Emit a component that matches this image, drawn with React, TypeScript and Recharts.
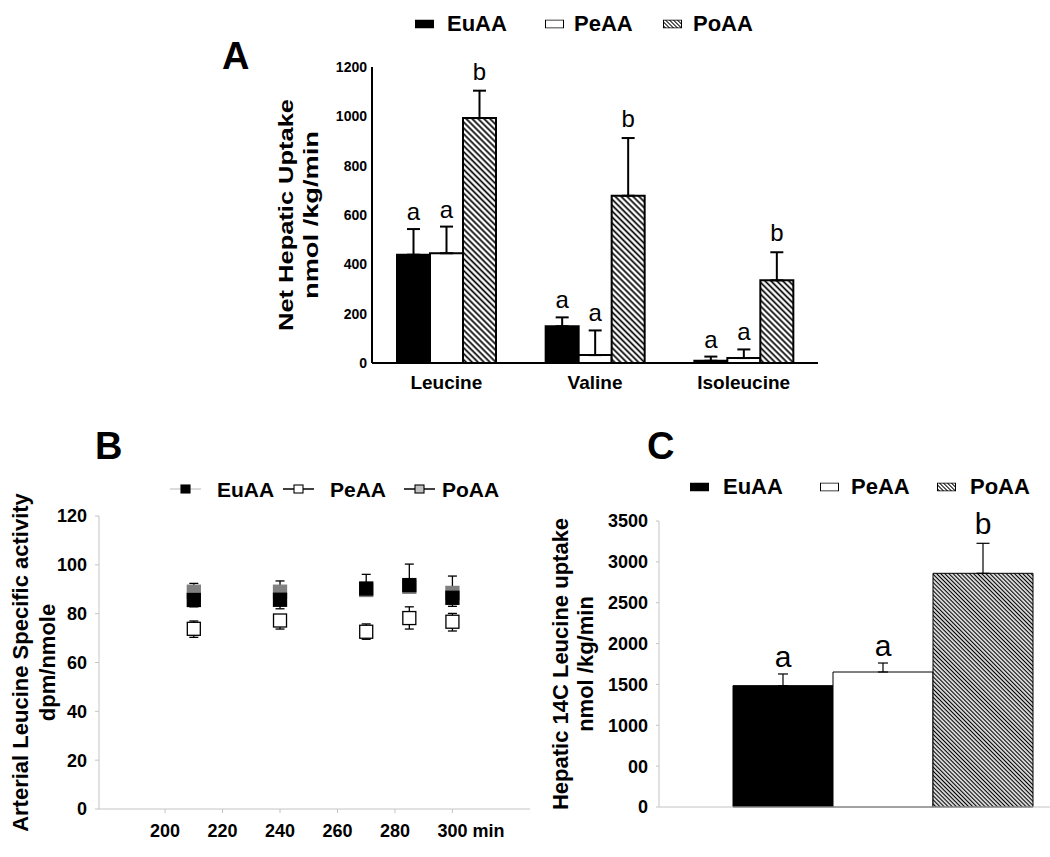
import React from 'react';
import { BarChart, Bar, XAxis, YAxis, ErrorBar, LabelList, ScatterChart, Scatter } from 'recharts';

const FONT = '"Liberation Sans", Arial, Helvetica, sans-serif';

const seriesNames = ['EuAA', 'PeAA', 'PoAA'];

// Panel A: net hepatic uptake, nmol/kg/min
const aminoAcids = ['Leucine', 'Valine', 'Isoleucine'];
const uptakeEu = [439, 149, 9];
const uptakePe = [445, 32, 20];
const uptakePo = [993, 678, 335];
const uptakeEuErr = [104, 36, 17];
const uptakePeErr = [108, 100, 35];
const uptakePoErr = [111, 234, 114];
const lettersEu = ['a', 'a', 'a'];
const lettersPe = ['a', 'a', 'a'];
const lettersPo = ['b', 'b', 'b'];
const uptakeTicks = [0, 200, 400, 600, 800, 1000, 1200];

// Panel B: arterial leucine specific activity, dpm/nmole
const sampleTimes = [210, 240, 270, 285, 300];
const saEu = [85.6, 85.7, 90.3, 91.7, 86.5];
const saEuLow = [2.8, 3.7, 1.5, 3.0, 3.5];
const saEuHigh = [1, 1, 5.8, 8.6, 1];
const saPe = [73.8, 77.2, 72.6, 78.2, 76.7];
const saPeLow = [3.5, 3.5, 3.1, 4.5, 3.8];
const saPeHigh = [3.2, 1, 3.2, 4.6, 3.4];
const saPo = [89, 89, 89.7, 91, 88.5];
const saPoLow = [1, 1, 1, 1, 1];
const saPoHigh = [3.4, 4.4, 1, 1, 6.9];
const timeTicks = [200, 220, 240, 260, 280, 300];
const timeTickLabels = ['200', '220', '240', '260', '280', '300 min'];
const saTicks = [0, 20, 40, 60, 80, 100, 120];

// Panel C: hepatic 14C leucine uptake, nmol/kg/min
const leuUptake = [1485, 1652, 2860];
const leuUptakeErr = [143, 110, 367];
const leuLetters = ['a', 'a', 'b'];
const leuTicks = [0, 500, 1000, 1500, 2000, 2500, 3000, 3500];
const leuTickLabels = ['0', '00', '1000', '1500', '2000', '2500', '3000', '3500'];

const uptakeData = aminoAcids.map((name, i) => ({
  name,
  eu: uptakeEu[i],
  pe: uptakePe[i],
  po: uptakePo[i],
  euErr: [0, uptakeEuErr[i]],
  peErr: [0, uptakePeErr[i]],
  poErr: [0, uptakePoErr[i]],
}));

const toRows = (vals: number[], low: number[], high: number[]) =>
  sampleTimes.map((t, i) => ({ x: t, y: vals[i], err: [low[i], high[i]] }));

const euRows = toRows(saEu, saEuLow, saEuHigh);
const peRows = toRows(saPe, saPeLow, saPeHigh);
const poRows = toRows(saPo, saPoLow, saPoHigh);

const leuData = [
  {
    name: 'uptake',
    eu: leuUptake[0],
    pe: leuUptake[1],
    po: leuUptake[2],
    euErr: [0, leuUptakeErr[0]],
    peErr: [0, leuUptakeErr[1]],
    poErr: [0, leuUptakeErr[2]],
  },
];

const boldTick = (size: number) => ({ fontSize: size, fontWeight: 'bold', fill: '#000', fontFamily: FONT });

const Hatch = ({ id, size, line }: { id: string; size: number; line: number }) => (
  <defs>
    <pattern id={id} width={size} height={size} patternUnits="userSpaceOnUse" patternTransform="rotate(45)">
      <rect width={size} height={size} fill="#fff" />
      <line x1={0} y1={size / 2} x2={size} y2={size / 2} stroke="#000" strokeWidth={line} />
    </pattern>
  </defs>
);

// letter drawn above the error bar cap of a bar
const letterLabel =
  (values: number[], errs: number[], letters: string[], fontSize: number, gap: number, fixedIndex?: number) =>
  (props: any) => {
    const vb = props.viewBox || props;
    const i = fixedIndex !== undefined ? fixedIndex : props.index;
    if (i === undefined || vb.height === undefined) return null;
    const ppu = Math.abs(vb.height) / values[i];
    const top = Math.min(vb.y, vb.y + vb.height) - errs[i] * ppu - gap;
    return (
      <text x={vb.x + vb.width / 2} y={top} textAnchor="middle" fontSize={fontSize} fontFamily={FONT} fill="#000">
        {letters[i]}
      </text>
    );
  };

const axisTitle =
  (lines: string[], offsets: number[], fontSize: number, lengths?: number[]) => (props: any) => {
    const vb = props.viewBox;
    const cy = vb.y + vb.height / 2;
    return (
      <g>
        {lines.map((t, i) => {
          const cx = vb.x + offsets[i];
          return (
            <text
              key={t}
              x={cx}
              y={cy}
              transform={`rotate(-90 ${cx} ${cy})`}
              textAnchor="middle"
              dominantBaseline="central"
              fontSize={fontSize}
              fontWeight="bold"
              fontFamily={FONT}
              fill="#000"
              textLength={lengths ? lengths[i] : undefined}
              lengthAdjust={lengths ? 'spacingAndGlyphs' : undefined}
            >
              {t}
            </text>
          );
        })}
      </g>
    );
  };

const RectSym = ({ fill, hatch }: { fill: string; hatch?: boolean }) => (
  <svg width={19} height={9} style={{ display: 'block' }}>
    {hatch && (
      <defs>
        <pattern id="legHatch" width={2.8} height={2.8} patternUnits="userSpaceOnUse" patternTransform="rotate(45)">
          <rect width={2.8} height={2.8} fill="#fff" />
          <line x1={0} y1={1.4} x2={2.8} y2={1.4} stroke="#000" strokeWidth={1} />
        </pattern>
      </defs>
    )}
    <rect x={0.5} y={0.5} width={18} height={8} fill={hatch ? 'url(#legHatch)' : fill} stroke="#000" strokeWidth={1} />
  </svg>
);

const LineSym = ({ fill, line, stroke }: { fill: string; line: string; stroke: string }) => (
  <svg width={31} height={11} style={{ display: 'block' }}>
    <line x1={0} y1={5.5} x2={31} y2={5.5} stroke={line} strokeWidth={1.3} />
    <rect x={11} y={1.5} width={9} height={8} fill={fill} stroke={stroke} strokeWidth={1.1} />
  </svg>
);

const LegendRow = ({
  symbols,
  symLefts,
  textLefts,
  centerY,
  fontSize,
}: {
  symbols: React.ReactNode[];
  symLefts: number[];
  textLefts: number[];
  centerY: number;
  fontSize: number;
}) => (
  <>
    {seriesNames.map((n, i) => (
      <React.Fragment key={n}>
        <div style={{ position: 'absolute', left: symLefts[i], top: centerY, transform: 'translateY(-50%)' }}>{symbols[i]}</div>
        <div
          style={{
            position: 'absolute',
            left: textLefts[i],
            top: centerY,
            transform: 'translateY(-50%)',
            fontSize,
            fontWeight: 'bold',
            lineHeight: 1,
            whiteSpace: 'nowrap',
          }}
        >
          {n}
        </div>
      </React.Fragment>
    ))}
  </>
);

const PanelLetter = ({ text, left, top }: { text: string; left: number; top: number }) => (
  <div style={{ position: 'absolute', left, top, fontSize: 38, fontWeight: 'bold', lineHeight: 1 }}>{text}</div>
);

const layer: React.CSSProperties = { position: 'absolute', left: 0, top: 0 };

const PanelA = () => (
  <div style={layer}>
    <BarChart
      width={1050}
      height={857}
      data={uptakeData}
      margin={{ top: 67, right: 232, bottom: 464, left: 312 }}
      barCategoryGap={25}
      barGap={0}
    >
      <Hatch id="hatchA" size={4.2} line={1.7} />
      <XAxis
        dataKey="name"
        height={30}
        tickLine={false}
        tickSize={0}
        tickMargin={13}
        axisLine={{ stroke: '#000', strokeWidth: 2 }}
        tick={boldTick(19)}
        interval={0}
      />
      <YAxis
        width={60}
        domain={[0, 1200]}
        ticks={uptakeTicks}
        tickLine={false}
        tickSize={0}
        tickMargin={5}
        axisLine={{ stroke: '#000', strokeWidth: 2 }}
        tick={boldTick(14)}
        label={{ content: axisTitle(['Net Hepatic Uptake', 'nmol /kg/min'], [-27, -2], 21, [232, 168]) }}
      />
      <Bar dataKey="eu" fill="#000" stroke="#000" strokeWidth={2} isAnimationActive={false}>
        <ErrorBar dataKey="euErr" direction="y" width={6.5} stroke="#000" strokeWidth={2} />
        <LabelList dataKey="eu" content={letterLabel(uptakeEu, uptakeEuErr, lettersEu, 24, 9)} />
      </Bar>
      <Bar dataKey="pe" fill="#fff" stroke="#000" strokeWidth={2} isAnimationActive={false}>
        <ErrorBar dataKey="peErr" direction="y" width={6.5} stroke="#000" strokeWidth={2} />
        <LabelList dataKey="pe" content={letterLabel(uptakePe, uptakePeErr, lettersPe, 24, 9)} />
      </Bar>
      <Bar dataKey="po" fill="url(#hatchA)" stroke="#000" strokeWidth={2} isAnimationActive={false}>
        <ErrorBar dataKey="poErr" direction="y" width={6.5} stroke="#000" strokeWidth={2} />
        <LabelList dataKey="po" content={letterLabel(uptakePo, uptakePoErr, lettersPo, 24, 11)} />
      </Bar>
    </BarChart>
    <LegendRow
      symbols={[<RectSym fill="#000" />, <RectSym fill="#fff" />, <RectSym fill="#fff" hatch />]}
      symLefts={[415, 545, 663]}
      textLefts={[447, 574, 693]}
      centerY={24}
      fontSize={22}
    />
    <PanelLetter text="A" left={222} top={37} />
  </div>
);

const square = (fill: string, stroke: string) => (props: any) => {
  const { cx, cy } = props;
  if (cx === undefined || cy === undefined) return <g />;
  return <rect x={cx - 6.5} y={cy - 6.5} width={13} height={13} fill={fill} stroke={stroke} strokeWidth={1.3} />;
};

const TimeTick = (props: any) => {
  const { x, y, payload } = props;
  const idx = timeTicks.indexOf(payload.value);
  const label = idx >= 0 ? timeTickLabels[idx] : String(payload.value);
  const num = String(payload.value);
  const shift = label === num ? 0 : (num.length * 0.556 * 18) / 2;
  return (
    <text
      x={x - shift}
      y={y}
      dy="0.71em"
      textAnchor={label === num ? 'middle' : 'start'}
      fontSize={18}
      fontWeight="bold"
      fontFamily={FONT}
      fill="#000"
    >
      {label}
    </text>
  );
};

const PanelB = () => (
  <div style={layer}>
    <ScatterChart width={1050} height={857} margin={{ top: 516, right: 520, bottom: 18, left: 39 }}>
      <XAxis
        type="number"
        dataKey="x"
        domain={[177, 327]}
        ticks={timeTicks}
        height={30}
        tickSize={4}
        tickMargin={11}
        tickLine={{ stroke: '#c4c4c4' }}
        axisLine={{ stroke: '#c4c4c4' }}
        tick={<TimeTick />}
      />
      <YAxis
        type="number"
        dataKey="y"
        width={60}
        domain={[0, 120]}
        ticks={saTicks}
        tickSize={4}
        tickMargin={8}
        tickLine={{ stroke: '#c4c4c4' }}
        axisLine={{ stroke: '#c4c4c4' }}
        tick={boldTick(18)}
        label={{ content: axisTitle(['Arterial Leucine Specific activity', 'dpm/nmole'], [-19, 8], 22) }}
      />
      <Scatter name="PoAA" data={poRows} shape={square('#808080', '#808080')} isAnimationActive={false}>
        <ErrorBar dataKey="err" direction="y" width={4.5} stroke="#000" strokeWidth={1.3} />
      </Scatter>
      <Scatter name="PeAA" data={peRows} shape={square('#fff', '#000')} isAnimationActive={false}>
        <ErrorBar dataKey="err" direction="y" width={4.5} stroke="#000" strokeWidth={1.3} />
      </Scatter>
      <Scatter name="EuAA" data={euRows} shape={square('#000', '#000')} isAnimationActive={false}>
        <ErrorBar dataKey="err" direction="y" width={4.5} stroke="#000" strokeWidth={1.3} />
      </Scatter>
    </ScatterChart>
    <LegendRow
      symbols={[
        <LineSym fill="#000" line="#cfcfcf" stroke="#000" />,
        <LineSym fill="#fff" line="#000" stroke="#000" />,
        <LineSym fill="#c0c0c0" line="#000" stroke="#000" />,
      ]}
      symLefts={[170, 283, 404]}
      textLefts={[217, 330, 442]}
      centerY={489}
      fontSize={21}
    />
    <PanelLetter text="B" left={95} top={427} />
  </div>
);

const PanelC = () => (
  <div style={layer}>
    <BarChart
      width={1050}
      height={857}
      data={leuData}
      margin={{ top: 521, right: 0, bottom: 20, left: 599 }}
      barCategoryGap={16}
      barGap={0}
    >
      <Hatch id="hatchC" size={2.9} line={1.3} />
      <XAxis dataKey="name" height={30} tick={false} tickLine={false} axisLine={{ stroke: '#c4c4c4' }} padding={{ left: 58, right: 0 }} />
      <YAxis
        width={60}
        domain={[0, 3500]}
        ticks={leuTicks}
        tickSize={3}
        tickMargin={8}
        tickLine={{ stroke: '#c4c4c4' }}
        axisLine={{ stroke: '#c4c4c4' }}
        tick={boldTick(18)}
        tickFormatter={(v: number) => leuTickLabels[leuTicks.indexOf(v)] ?? String(v)}
        label={{ content: axisTitle(['Hepatic 14C Leucine uptake', 'nmol /kg/min'], [-39, -14], 22) }}
      />
      <Bar dataKey="eu" fill="#000" stroke="#000" strokeWidth={1} isAnimationActive={false}>
        <ErrorBar dataKey="euErr" direction="y" width={5} stroke="#000" strokeWidth={1.2} />
        <LabelList dataKey="eu" content={letterLabel(leuUptake, leuUptakeErr, leuLetters, 30, 7, 0)} />
      </Bar>
      <Bar dataKey="pe" fill="#fff" stroke="#000" strokeWidth={1} isAnimationActive={false}>
        <ErrorBar dataKey="peErr" direction="y" width={5} stroke="#000" strokeWidth={1.2} />
        <LabelList dataKey="pe" content={letterLabel(leuUptake, leuUptakeErr, leuLetters, 30, 7, 1)} />
      </Bar>
      <Bar dataKey="po" fill="url(#hatchC)" stroke="#000" strokeWidth={1} isAnimationActive={false}>
        <ErrorBar dataKey="poErr" direction="y" width={6.5} stroke="#000" strokeWidth={1.2} />
        <LabelList dataKey="po" content={letterLabel(leuUptake, leuUptakeErr, leuLetters, 30, 9, 2)} />
      </Bar>
    </BarChart>
    <LegendRow
      symbols={[<RectSym fill="#000" />, <RectSym fill="#fff" />, <RectSym fill="#fff" hatch />]}
      symLefts={[690, 820, 937]}
      textLefts={[723, 851, 970]}
      centerY={487}
      fontSize={22}
    />
    <PanelLetter text="C" left={647} top={427} />
  </div>
);

export default function App() {
  return (
    <div
      style={{
        position: 'absolute',
        left: 0,
        top: 0,
        width: 1050,
        height: 857,
        overflow: 'hidden',
        background: '#fff',
        fontFamily: FONT,
        color: '#000',
      }}
    >
      <PanelA />
      <PanelB />
      <PanelC />
    </div>
  );
}
